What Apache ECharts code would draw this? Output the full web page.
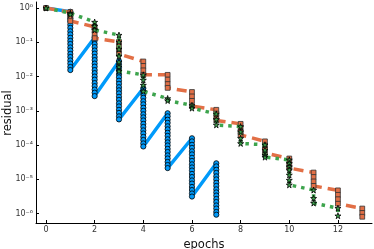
<!DOCTYPE html>
<html><head><meta charset="utf-8">
<script src="https://cdn.jsdelivr.net/npm/echarts@6/dist/echarts.min.js"></script>
<style>html,body{margin:0;padding:0;background:#fff}#c{width:374px;height:249px}</style>
</head><body><div id="c"></div>
<script>
// tick positions
const xTicks = [0, 2, 4, 6, 8, 10, 12];
const yTickExps = [-6, -5, -4, -3, -2, -1, 0];
// residual values, given as log10(residual), one array per epoch column
const blueEpochs = [0, 1, 2, 3, 4, 5, 6, 7];
const blueLog = [
  [0],
  [-0.11,-0.20,-0.30,-0.39,-0.49,-0.58,-0.68,-0.77,-0.87,-0.96,-1.05,-1.15,-1.24,-1.34,-1.43,-1.53,-1.62,-1.72,-1.81],
  [-0.86,-0.95,-1.05,-1.14,-1.24,-1.33,-1.43,-1.52,-1.62,-1.71,-1.81,-1.90,-2.00,-2.09,-2.19,-2.28,-2.38,-2.47,-2.57],
  [-1.55,-1.64,-1.74,-1.83,-1.93,-2.02,-2.12,-2.21,-2.31,-2.40,-2.49,-2.59,-2.68,-2.78,-2.87,-2.97,-3.06,-3.16,-3.25],
  [-2.34,-2.43,-2.53,-2.62,-2.72,-2.81,-2.91,-3.00,-3.10,-3.19,-3.28,-3.38,-3.47,-3.57,-3.66,-3.76,-3.85,-3.95,-4.04],
  [-3.07,-3.16,-3.26,-3.35,-3.45,-3.54,-3.64,-3.73,-3.83,-3.92,-4.01,-4.11,-4.20,-4.30,-4.39,-4.49,-4.58,-4.67],
  [-3.80,-3.89,-3.99,-4.08,-4.18,-4.27,-4.37,-4.46,-4.56,-4.65,-4.74,-4.84,-4.93,-5.03,-5.12,-5.22,-5.31,-5.41,-5.50],
  [-4.53,-4.62,-4.72,-4.81,-4.91,-5.00,-5.10,-5.19,-5.29,-5.38,-5.47,-5.57,-5.66,-5.76,-5.85,-5.95,-6.03]
];
const orangeEpochs = [0,1,2,3,4,5,6,7,8,9,10,11,12,13];
const orangeLog = [
  [0],
  [-0.12,-0.20,-0.29,-0.38],
  [-0.55,-0.66,-0.76,-0.88],
  [-0.99,-1.11,-1.22,-1.34],
  [-1.56,-1.69,-1.82,-1.95],
  [-1.95,-2.09,-2.22,-2.33],
  [-2.45,-2.58,-2.71,-2.86],
  [-2.97,-3.08,-3.18,-3.28],
  [-3.38,-3.50,-3.62,-3.70],
  [-3.89,-4.01,-4.11,-4.23],
  [-4.39,-4.48,-4.58,-4.67],
  [-4.80,-4.93,-5.06,-5.19],
  [-5.32,-5.45,-5.58,-5.71],
  [-5.85,-5.98,-6.09]
];
const greenEpochs = [0,1,2,3,4,5,6,7,8,9,10,11,12];
const greenLog = [
  [0],
  [-0.15,-0.19],
  [-0.41,-0.53,-0.64],
  [-0.79,-0.99,-1.20,-1.40,-1.57,-1.72,-1.84],
  [-1.95,-2.10,-2.25,-2.43],
  [-2.64,-2.70],
  [-2.84,-2.92],
  [-3.09,-3.25,-3.41],
  [-3.46,-3.61,-3.80,-3.95],
  [-3.99,-4.14,-4.29,-4.35],
  [-4.43,-4.53,-4.63,-4.72,-4.87,-5.02,-5.16],
  [-5.31,-5.55,-5.69],
  [-5.84,-6.06]
];

function flatten(epochs, cols) {
  const out = [];
  epochs.forEach((e, i) => cols[i].forEach(v => out.push([e, v])));
  return out;
}
const SUP = {'-':'\u207B','0':'\u2070','1':'\u00B9','2':'\u00B2','3':'\u00B3','4':'\u2074','5':'\u2075','6':'\u2076','7':'\u2077','8':'\u2078','9':'\u2079'};
const sup = n => String(n).split('').map(c => SUP[c]).join('');
const STAR = 'path://M50,0 L61,35 L98,35 L68,57 L79,91 L50,70 L21,91 L32,57 L2,35 L39,35 Z';

const chart = echarts.init(document.getElementById('c'), null, {renderer: 'canvas'});
chart.setOption({
  animation: false,
  backgroundColor: '#fff',
  grid: {left: 36, right: 2, top: 2, bottom: 26, containLabel: false, outerBoundsMode: 'none'},
  graphic: [{
    type: 'text', x: 8, y: 113, rotation: Math.PI / 2,
    style: {text: 'residual', font: '11.5px "DejaVu Sans"', fill: '#111', align: 'center', verticalAlign: 'middle'}
  }],
  xAxis: {
    type: 'value', min: -0.411, max: 13.4,
    name: 'epochs', nameLocation: 'middle', nameGap: 12,
    nameTextStyle: {fontSize: 11.5, color: '#111', fontFamily: 'DejaVu Sans'},
    axisLine: {show: true, onZero: false, lineStyle: {color: '#000', width: 1}},
    axisTick: {show: true, inside: true, length: 3, customValues: xTicks, lineStyle: {color: '#000'}},
    axisLabel: {customValues: xTicks, fontSize: 8, color: '#333', margin: 3, fontFamily: 'DejaVu Sans'},
    splitLine: {show: false}
  },
  yAxis: {
    type: 'value', min: -6.272, max: 0.175,
    axisLine: {show: true, onZero: false, lineStyle: {color: '#000', width: 1}},
    axisTick: {show: true, inside: true, length: 3, customValues: yTickExps, lineStyle: {color: '#000'}},
    axisLabel: {customValues: yTickExps, fontSize: 8, color: '#333', margin: 3, fontFamily: 'DejaVu Sans',
      formatter: v => '10' + sup(Math.round(v))},
    splitLine: {show: false}
  },
  series: [
    {
      type: 'line', data: flatten(blueEpochs, blueLog),
      showSymbol: true, showAllSymbol: true, symbol: 'circle', symbolSize: 5.2,
      lineStyle: {color: '#009AFA', width: 3.5},
      itemStyle: {color: '#009AFA', borderColor: '#000', borderWidth: 0.8}, z: 2
    },
    {
      type: 'line', data: flatten(orangeEpochs, orangeLog),
      showSymbol: true, showAllSymbol: true, symbol: 'rect', symbolSize: 4.8,
      lineStyle: {color: '#E26F46', width: 3.5, type: [10, 6]},
      itemStyle: {color: '#E26F46', borderColor: '#333', borderWidth: 0.8}, z: 3
    },
    {
      type: 'line', data: flatten(greenEpochs, greenLog),
      showSymbol: true, showAllSymbol: true, symbol: STAR, symbolSize: 6,
      lineStyle: {color: '#3DA44D', width: 3.5, type: [3.5, 5]},
      itemStyle: {color: '#3DA44D', borderColor: '#000', borderWidth: 0.8}, z: 4
    }
  ]
});
</script></body></html>
